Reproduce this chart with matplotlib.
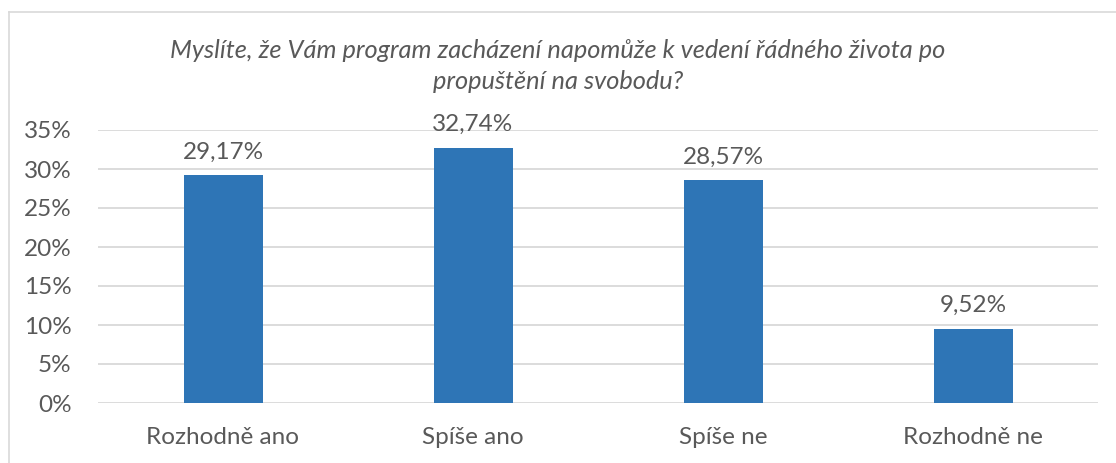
import matplotlib.pyplot as plt
from matplotlib.lines import Line2D

# data
categories = ["Rozhodně ano", "Spíše ano", "Spíše ne", "Rozhodně ne"]
values = [29.17, 32.74, 28.57, 9.52]
yticks = [0, 5, 10, 15, 20, 25, 30, 35]
title = ("Myslíte, že Vám program zacházení napomůže k vedení řádného života po\n"
         "propuštění na svobodu?")

W, H = 1116, 463
GREY = "#595959"
BLUE = "#2E75B6"
plt.rcParams["font.family"] = ["Lato", "DejaVu Sans"]

fig = plt.figure(figsize=(W / 100, H / 100), dpi=100)

# plot area in pixel coords
left, right, top, bottom = 98, 1098, 130, 403
ax = fig.add_axes([left / W, (H - bottom) / H, (right - left) / W, (bottom - top) / H])

x = range(len(categories))
bars = ax.bar(x, values, width=0.316, color=BLUE, zorder=3)
for b, v in zip(bars, values):
    ax.annotate(f"{v:.2f}".replace(".", ",") + "%", (b.get_x() + b.get_width() / 2, v),
                xytext=(0, 9), textcoords="offset points", ha="center", va="bottom",
                fontsize=17.5, color=GREY)

ax.set_xlim(-0.5, len(categories) - 0.5)
ax.set_ylim(0, 35)
ax.set_yticks(yticks)
ax.set_yticklabels([f"{t}%" for t in yticks])
ax.set_xticks(list(x))
ax.set_xticklabels(categories)
ax.tick_params(axis="both", length=0, labelsize=17.5, labelcolor=GREY)
ax.tick_params(axis="y", pad=19)
ax.tick_params(axis="x", pad=17.5)
ax.grid(axis="y", color="#D9D9D9", lw=1.3, zorder=0)
for s in ax.spines.values():
    s.set_visible(False)

fig.text(0.5, (H - 66) / H, title, ha="center", va="center", fontsize=18.3,
         style="italic", color=GREY, linespacing=1.45)

# chart frame (left and top edges visible)
fig.add_artist(Line2D([9 / W, 9 / W], [0, (H - 12) / H], color="#D9D9D9", lw=1.2))
fig.add_artist(Line2D([9 / W, 1], [(H - 12) / H, (H - 12) / H], color="#D9D9D9", lw=1.2))

fig.savefig("out.png", dpi=100)
